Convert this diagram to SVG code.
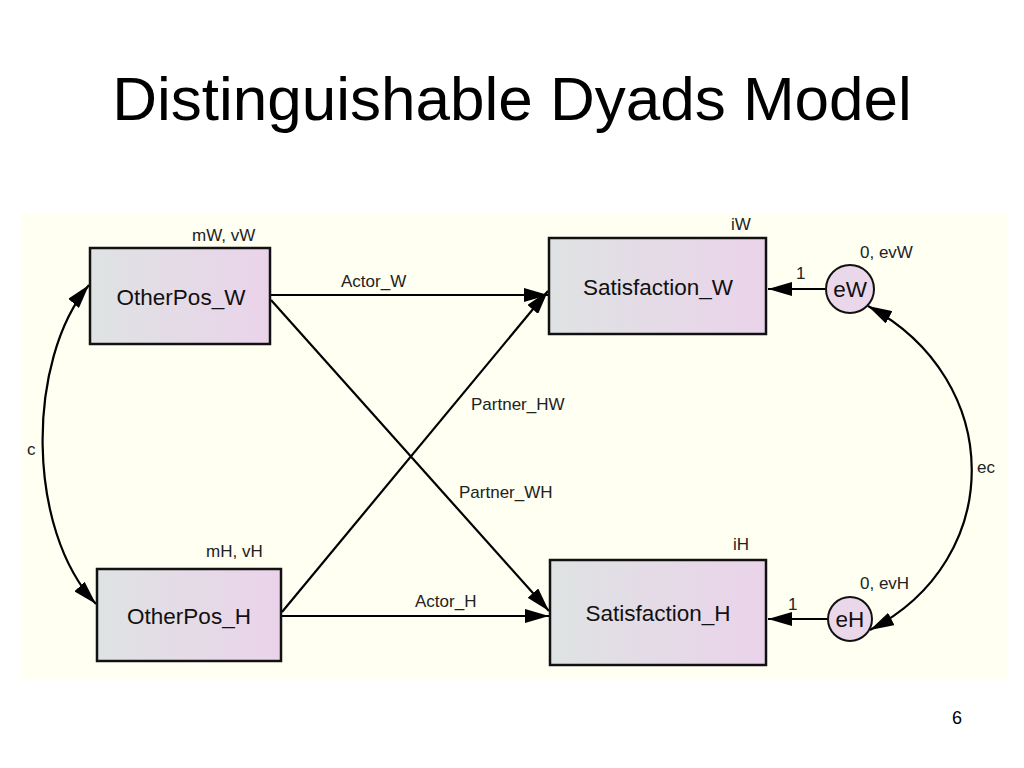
<svg xmlns="http://www.w3.org/2000/svg" width="1024" height="768" viewBox="0 0 1024 768">
<style>
.t{font-family:"Liberation Sans",Arial,sans-serif;fill:#000}
.lab{font-family:"Liberation Sans",Arial,sans-serif;font-size:17px;fill:#222}
.box{fill:url(#g);stroke:#111;stroke-width:2.5}
.node{font-family:"Liberation Sans",Arial,sans-serif;font-size:22.5px;fill:#111;text-anchor:middle}
.c{fill:none;stroke:#000;stroke-width:2.2}
</style>
<defs>
<linearGradient id="g" x1="0" y1="0" x2="1" y2="0">
<stop offset="0" stop-color="#dfe3e3"/>
<stop offset="1" stop-color="#ead3ea"/>
</linearGradient>
<marker id="a" viewBox="0 0 24 14" refX="24" refY="7" markerWidth="24" markerHeight="14" markerUnits="userSpaceOnUse" orient="auto-start-reverse">
<path d="M0,0 L24,7 L0,14 z" fill="#000"/>
</marker>
</defs>
<rect width="1024" height="768" fill="#fff"/>
<text class="t" x="512" y="120" font-size="62" text-anchor="middle">Distinguishable Dyads Model</text>
<rect x="22" y="213" width="986" height="467" fill="#fffff2"/>
<g id="connectors">
<line class="c" x1="271" y1="295" x2="548" y2="295" marker-end="url(#a)"/>
<line class="c" x1="271" y1="300" x2="549" y2="611" marker-end="url(#a)"/>
<line class="c" x1="282" y1="612" x2="548" y2="291" marker-end="url(#a)"/>
<line class="c" x1="282" y1="616" x2="549" y2="616" marker-end="url(#a)"/>
<line class="c" x1="825" y1="289" x2="768" y2="289" marker-end="url(#a)"/>
<line class="c" x1="827" y1="619" x2="768" y2="619" marker-end="url(#a)"/>
<path class="c" d="M89,285 C26,360 26,530 96,604" marker-start="url(#a)" marker-end="url(#a)"/>
<path class="c" d="M868,306 C1006,380 1006,560 870,630" marker-start="url(#a)" marker-end="url(#a)"/>
</g>
<g id="labels">
<text class="lab" x="341" y="287">Actor_W</text>
<text class="lab" x="471" y="410">Partner_HW</text>
<text class="lab" x="459" y="498">Partner_WH</text>
<text class="lab" x="415" y="607">Actor_H</text>
<text class="lab" x="27" y="455">c</text>
<text class="lab" x="977" y="473">ec</text>
<text class="lab" x="796" y="279">1</text>
<text class="lab" x="788" y="610">1</text>
</g>
<g id="OtherPos_W">
<rect class="box" x="90" y="248" width="180" height="96"/>
<text class="node" x="181" y="305">OtherPos_W</text>
<text class="lab" x="192" y="241">mW, vW</text>
</g>
<g id="OtherPos_H">
<rect class="box" x="97" y="569" width="184" height="92"/>
<text class="node" x="189" y="624">OtherPos_H</text>
<text class="lab" x="206" y="557">mH, vH</text>
</g>
<g id="Satisfaction_W">
<rect class="box" x="549" y="238" width="217" height="96"/>
<text class="node" x="658" y="295">Satisfaction_W</text>
<text class="lab" x="731" y="230">iW</text>
</g>
<g id="Satisfaction_H">
<rect class="box" x="550" y="560" width="216" height="105"/>
<text class="node" x="658" y="621">Satisfaction_H</text>
<text class="lab" x="733" y="550">iH</text>
</g>
<g id="eW">
<circle cx="850" cy="289" r="24" fill="#ead7ea" stroke="#111" stroke-width="2"/>
<text class="node" x="850" y="297">eW</text>
<text class="lab" x="860" y="258">0, evW</text>
</g>
<g id="eH">
<circle cx="850" cy="619" r="22" fill="#ead7ea" stroke="#111" stroke-width="2"/>
<text class="node" x="850" y="627">eH</text>
<text class="lab" x="860" y="589">0, evH</text>
</g>
<text class="t" x="957" y="724" font-size="18" text-anchor="middle">6</text>
</svg>
